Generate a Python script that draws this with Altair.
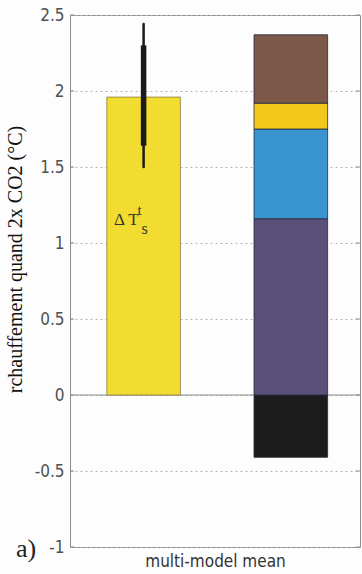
import altair as alt
import pandas as pd

# x positions of the two bars and their half width (x units)
positions = [1, 2]
bar_half_width = 0.25

# multi-model mean warming and its inter-model spread
mean_warming = [1.96]
spread_outer = [1.50, 2.44]
spread_inner = [1.64, 2.30]

# contributions to the warming, stacked from zero
components = ["ocean", "planck", "water_vapour_lapse_rate", "albedo", "cloud"]
contributions = [-0.41, 1.16, 0.59, 0.17, 0.45]
component_colors = ["#1c1c1c", "#5a5078", "#3a94cf", "#f2c81c", "#7b5847"]

y_ticks = [-1, -0.5, 0, 0.5, 1, 1.5, 2, 2.5]

NARROW = "Liberation Sans Narrow, Arial Narrow, DejaVu Sans Condensed, sans-serif"
SERIF = "Liberation Serif, Times New Roman, serif"

mean_df = pd.DataFrame({"pos": [positions[0]], "value": mean_warming})
spread_df = pd.DataFrame({
    "pos": [positions[0]],
    "lo_outer": [spread_outer[0]], "hi_outer": [spread_outer[1]],
    "lo_inner": [spread_inner[0]], "hi_inner": [spread_inner[1]],
})
stack_df = pd.DataFrame({
    "pos": [positions[1]] * len(components),
    "component": components,
    "value": contributions,
    "order": list(range(len(components))),
})
tick_df = pd.DataFrame({"tick": y_ticks})

x_scale = alt.Scale(domain=[0.5, 2.47], nice=False, zero=False)
y_scale = alt.Scale(domain=[-1, 2.5], nice=False, zero=False)

x_axis = alt.Axis(labels=False, ticks=False, domain=False, grid=False,
                  title="multi-model mean", titleFont=NARROW, titleFontSize=17,
                  titleFontWeight="normal", titleColor="#333333", titlePadding=6)
y_axis = alt.Axis(values=y_ticks, labelExpr="toString(datum.value)",
                  labelFont=NARROW, labelFontSize=17, labelColor="#505050",
                  labelPadding=6, ticks=False, domain=True, domainColor="#8c8c8c",
                  grid=True, gridColor="#b4b4b4", gridDash=[2, 3], gridWidth=1,
                  title="rchauffement quand 2x CO2 (°C)", titleFont=SERIF,
                  titleFontSize=20, titleFontWeight="normal", titleColor="#111111",
                  titlePadding=9, titleY=244)

mean_bar = alt.Chart(mean_df).transform_calculate(
    x0=f"datum.pos - {bar_half_width}", x1=f"datum.pos + {bar_half_width}"
).mark_rect(color="#f2dc30", stroke="#8a8040", strokeWidth=0.8).encode(
    x=alt.X("x0:Q", scale=x_scale, axis=x_axis),
    x2="x1:Q",
    y=alt.Y("value:Q", scale=y_scale, axis=y_axis),
    y2=alt.datum(0),
)

stack_bar = alt.Chart(stack_df).transform_stack(
    stack="value", groupby=["pos"], as_=["y0", "y1"],
    sort=[alt.SortField("order", order="ascending")], offset="zero"
).transform_calculate(
    x0=f"datum.pos - {bar_half_width}", x1=f"datum.pos + {bar_half_width}"
).mark_rect(stroke="#2a2a3a", strokeWidth=0.8).encode(
    x=alt.X("x0:Q", scale=x_scale),
    x2="x1:Q",
    y=alt.Y("y0:Q", scale=y_scale),
    y2="y1:Q",
    color=alt.Color("component:N", legend=None,
                    scale=alt.Scale(domain=components, range=component_colors)),
)

zero_line = alt.Chart(mean_df).mark_rule(color="#8c8c8c", strokeWidth=1.2).encode(
    y=alt.datum(0, scale=y_scale)
)

# short inward ticks on both vertical edges of the frame
left_ticks = alt.Chart(tick_df).mark_rule(color="#8c8c8c", strokeWidth=1).encode(
    y=alt.Y("tick:Q", scale=y_scale), x=alt.value(0), x2=alt.value(4)
)
right_ticks = alt.Chart(tick_df).mark_rule(color="#8c8c8c", strokeWidth=1).encode(
    y=alt.Y("tick:Q", scale=y_scale), x=alt.value(286), x2=alt.value(290)
)

outer_rule = alt.Chart(spread_df).mark_rule(color="#1a1a1a", strokeWidth=2.5,
                                            strokeCap="round").encode(
    x=alt.X("pos:Q", scale=x_scale), y="lo_outer:Q", y2="hi_outer:Q"
)
inner_rule = alt.Chart(spread_df).mark_rule(color="#1a1a1a", strokeWidth=5.5).encode(
    x=alt.X("pos:Q", scale=x_scale), y="lo_inner:Q", y2="hi_inner:Q"
)

# Delta T_s^t annotation inside the mean bar
label_main = alt.Chart(mean_df).mark_text(
    text="Δ T", font=SERIF, fontSize=17, color="#333333",
    align="right", baseline="alphabetic", dx=-5
).encode(x=alt.X("pos:Q", scale=x_scale), y=alt.datum(1.12))
label_sup = alt.Chart(mean_df).mark_text(
    text="t", font=SERIF, fontSize=15, color="#333333",
    align="left", baseline="alphabetic", dx=-6, dy=-10
).encode(x=alt.X("pos:Q", scale=x_scale), y=alt.datum(1.12))
label_sub = alt.Chart(mean_df).mark_text(
    text="s", font=SERIF, fontSize=16, color="#333333",
    align="left", baseline="alphabetic", dx=-2, dy=9
).encode(x=alt.X("pos:Q", scale=x_scale), y=alt.datum(1.12))

panel_tag = alt.Chart(mean_df).mark_text(
    text="a)", font=SERIF, fontSize=26, color="#222222",
    align="left", baseline="alphabetic", dy=10
).encode(x=alt.value(-54), y=alt.datum(-1))

chart = alt.layer(
    zero_line, mean_bar, stack_bar, left_ticks, right_ticks, outer_rule, inner_rule,
    label_main, label_sup, label_sub, panel_tag
).properties(
    width=290, height=532,
    autosize=alt.AutoSizeParams(type="none"),
    padding={"left": 70, "top": 15, "right": 2, "bottom": 27},
    background="#fdfdfd",
).configure_view(stroke="#8c8c8c", strokeWidth=1)

chart.save("out.html", embed_options={"renderer": "svg", "actions": False})
